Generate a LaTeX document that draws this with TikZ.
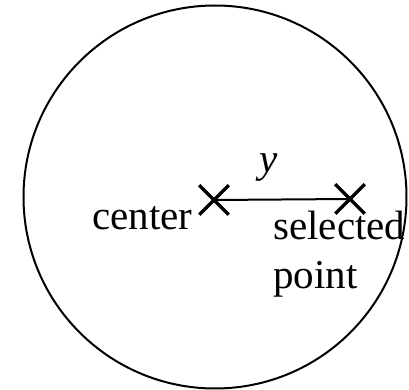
\documentclass[tikz,border=0pt]{standalone}
\usepackage{fontspec}
\setmainfont{Liberation Serif}
\usetikzlibrary{positioning,shapes.misc}
\tikzset{
  mark point/.style={draw,cross out,line width=1.75pt,minimum size=13pt,inner sep=0pt},
  point label/.style={inner sep=0pt,font=\fontsize{20.5}{24.5}\selectfont}
}

\begin{document}
\begin{tikzpicture}[x=0.5pt,y=-0.5pt]
  \useasboundingbox (0,0) rectangle (409,390);
  % Circle
  \node[draw,circle,line width=1pt,minimum size=191.5pt,inner sep=0pt] (disk) at (215,197) {};
  % Points
  \node[mark point] (ctr) at (214,200) {};
  \node[mark point] (sel) at (350,199) {};
  % Distance
  \draw[line width=1pt] (ctr.center) -- node[point label,pos=0.4,above=8.5pt] (dist) {\textit{y}} (sel.center);
  % Labels
  \node[point label,anchor=base east] (ctrlabel) at (193,230) {center};
  \node[point label,anchor=north west,align=left] (sellabel) at (273,211) {selected\\point};
\end{tikzpicture}
\end{document}
